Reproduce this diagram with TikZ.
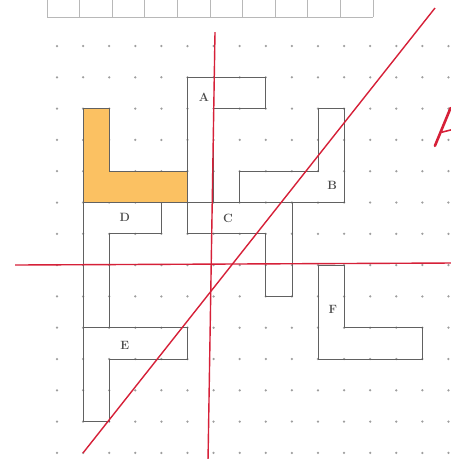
\documentclass[tikz,border=0pt]{standalone}
\definecolor{lorange}{RGB}{251,193,98}
\definecolor{redline}{RGB}{214,32,56}
\begin{document}
\begin{tikzpicture}[x=26.1pt,y=-31.3pt,
  piece/.style={draw=black!62,line width=0.7pt},
  lbl/.style={font=\bfseries\fontsize{12}{12}\selectfont,text=black!70,inner sep=0pt},
  redl/.style={draw=redline,line width=1.4pt},
  tablec/.style={draw=black!28,line width=0.7pt},
  dotc/.style={fill=black!38}]
\useasboundingbox (-2.184,-1.470) rectangle (15.096,13.195);
\fill[white] (-2.184,-1.470) rectangle (15.096,13.195);
% top table
\foreach \k in {0,...,10}
  \draw[tablec] ({-0.383+1.249*\k},-1.6) -- ({-0.383+1.249*\k},-0.927);
\draw[tablec] (-0.383,-0.927) -- (12.107,-0.927);
% dots
\foreach \i in {0,...,15}
  \foreach \j in {0,...,13}
    \fill[dotc] (\i,\j) circle[radius=1.25pt];
% pieces
\draw[piece,fill=lorange] (1,2)--(2,2)--(2,4)--(5,4)--(5,5)--(1,5)--cycle;
\draw[piece] (5,1)--(8,1)--(8,2)--(6,2)--(6,5)--(5,5)--cycle;
\draw[piece] (7,4)--(10,4)--(10,2)--(11,2)--(11,5)--(7,5)--cycle;
\draw[piece] (5,5)--(9,5)--(9,8)--(8,8)--(8,6)--(5,6)--cycle;
\draw[piece] (1,5)--(4,5)--(4,6)--(2,6)--(2,9)--(1,9)--cycle;
\draw[piece] (1,9)--(5,9)--(5,10)--(2,10)--(2,12)--(1,12)--cycle;
\draw[piece] (10,7)--(11,7)--(11,9)--(14,9)--(14,10)--(10,10)--cycle;
% labels
\node[lbl] (A) at (5.63,1.63) {A};
\node[lbl] (B) at (10.54,4.44) {B};
\node[lbl] (C) at (6.55,5.5) {C};
\node[lbl] (D) at (2.6,5.46) {D};
\node[lbl] (E) at (2.6,9.55) {E};
\node[lbl] (F) at (10.57,8.43) {F};
% red lines
\coordinate (v1) at (6.054,-0.447);
\coordinate (v2) at (5.785,13.3);
\coordinate (h1) at (-1.609,6.997);
\coordinate (h2) at (15.2,6.933);
\coordinate (d1) at (0.996,13.003);
\coordinate (d2) at (14.483,-1.214);
\draw[redl] (v1) -- (v2);
\draw[redl] (h1) -- (h2);
\draw[redl] (d1) -- (d2);
% partial handwritten A
\coordinate (a1) at (14.48,3.19);
\coordinate (a2) at (15.08,1.98);
\coordinate (a3) at (14.76,2.75);
\coordinate (a4) at (15.1,2.68);
\draw[draw=redline,line width=2.6pt,line cap=round] (a1) -- (a2);
\draw[draw=redline,line width=1.6pt,line cap=round] (a3) -- (a4);
\end{tikzpicture}
\end{document}
